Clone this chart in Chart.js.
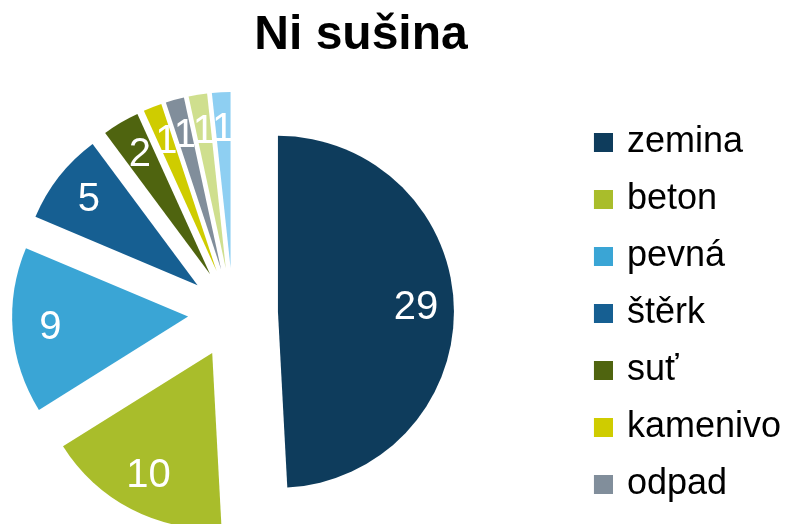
<!DOCTYPE html>
<html>
<head>
<meta charset="utf-8">
<script src="https://cdn.jsdelivr.net/npm/chart.js@4.4.1/dist/chart.umd.min.js"></script>
<style>
html,body{margin:0;padding:0;background:#ffffff;overflow:hidden;}
#wrap{width:790px;height:524px;overflow:hidden;position:relative;}
#c{display:block;margin-left:-69px;}
</style>
</head>
<body>
<div id="wrap"><canvas id="c" width="860" height="549"></canvas></div>
<script>
// ---- data ----
const titleText = 'Ni sušina';
const categories = ['zemina', 'beton', 'pevná', 'štěrk', 'suť', 'kamenivo', 'odpad', 'sklo', 'ostatní'];
const values = [29, 10, 9, 5, 2, 1, 1, 1, 1];
const colors = ['#0e3c5c', '#a9bd2b', '#3aa5d5', '#165f92', '#4f640f', '#cfcc00', '#818e9b', '#cfdf8e', '#8ecff2'];
const legendCount = 7;

const FONT = '"Liberation Sans", Arial, Helvetica, sans-serif';
Chart.defaults.font.family = FONT;

// exploded pie slices: translate every slice along its bisector by its offset
const ArcEl = (Chart.elements && Chart.elements.ArcElement) || Chart.registry.getElement('arc');
ArcEl.prototype.draw = function (ctx) {
  const p = this.getProps(['x', 'y', 'startAngle', 'endAngle', 'outerRadius']);
  const o = this.options;
  const d = o.offset || 0;
  const mid = (p.startAngle + p.endAngle) / 2;
  ctx.save();
  ctx.translate(Math.cos(mid) * d, Math.sin(mid) * d);
  ctx.beginPath();
  ctx.moveTo(p.x, p.y);
  ctx.arc(p.x, p.y, p.outerRadius, p.startAngle, p.endAngle);
  ctx.closePath();
  ctx.fillStyle = o.backgroundColor;
  ctx.fill();
  ctx.restore();
};

// legend marker: a 19px square placed inside a wider marker cell
function swatch(color) {
  const cv = document.createElement('canvas');
  cv.width = 61; cv.height = 19;
  const g = cv.getContext('2d');
  g.fillStyle = color;
  g.fillRect(42, 0, 19, 19);
  return cv;
}

const sliceLabels = {
  id: 'sliceLabels',
  afterDatasetsDraw(chart, args, opts) {
    const ctx = chart.ctx;
    const meta = chart.getDatasetMeta(0);
    const ds = chart.data.datasets[0];
    ctx.save();
    ctx.font = opts.size + 'px ' + FONT;
    ctx.fillStyle = opts.color;
    ctx.textAlign = 'center';
    ctx.textBaseline = 'middle';
    meta.data.forEach((arc, i) => {
      const p = arc.getProps(['x', 'y', 'startAngle', 'endAngle', 'outerRadius']);
      const mid = (p.startAngle + p.endAngle) / 2;
      const r = (arc.options.offset || 0) + p.outerRadius * opts.position;
      ctx.fillText(String(ds.data[i]), p.x + Math.cos(mid) * r, p.y + Math.sin(mid) * r);
    });
    ctx.restore();
  }
};

const baseGen = Chart.overrides.pie.plugins.legend.labels.generateLabels;

new Chart(document.getElementById('c'), {
  type: 'pie',
  data: {
    labels: categories,
    datasets: [{
      data: values,
      backgroundColor: colors,
      borderWidth: 0,
      offset: 45,
      radius: 176
    }]
  },
  options: {
    responsive: false,
    animation: false,
    devicePixelRatio: 1,
    events: [],
    layout: { padding: 0 },
    plugins: {
      title: {
        display: true,
        text: titleText,
        color: '#000000',
        font: { family: FONT, size: 48, weight: 'bold', lineHeight: 1.2 },
        padding: { top: 7, bottom: 12.4 }
      },
      legend: {
        display: true,
        position: 'right',
        fullSize: false,
        align: 'center',
        labels: {
          color: '#000000',
          font: { family: FONT, size: 36 },
          usePointStyle: true,
          pointStyleWidth: 53,
          boxHeight: 19,
          padding: 21,
          generateLabels: (chart) => baseGen(chart).map(it => Object.assign(it, { pointStyle: swatch(it.fillStyle) })),
          filter: (item) => item.index < legendCount
        }
      },
      tooltip: { enabled: false },
      sliceLabels: { size: 40, color: '#ffffff', position: 0.785 }
    }
  },
  plugins: [sliceLabels]
});
</script>
</body>
</html>
